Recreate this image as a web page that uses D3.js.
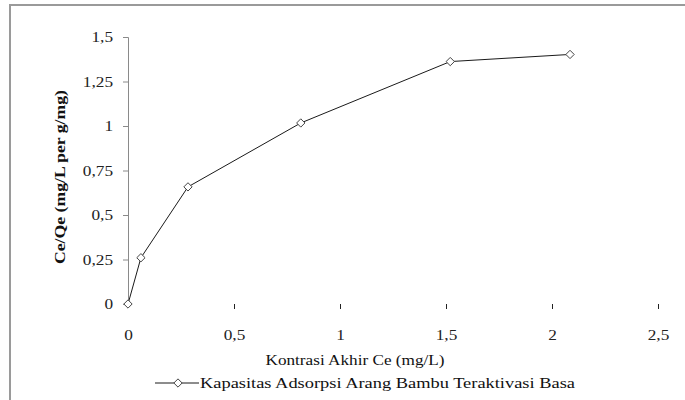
<!DOCTYPE html>
<html>
<head>
<meta charset="utf-8">
<script src="https://cdn.jsdelivr.net/npm/d3@7"></script>
<style>
    body { margin: 0; background: #fff; }
</style>
</head>
<body>
<div id="chart"></div>
<script>
// Data
const ceValues = [0, 0.061, 0.283, 0.815, 1.52, 2.085];
const ceQeValues = [0, 0.26, 0.658, 1.017, 1.362, 1.402];
const xTicks = [0, 0.5, 1, 1.5, 2, 2.5];
const yTicks = [0, 0.25, 0.5, 0.75, 1, 1.25, 1.5];
const xTitle = 'Kontrasi Akhir Ce (mg/L)';
const yTitle = 'Ce/Qe (mg/L per g/mg)';
const seriesName = 'Kapasitas Adsorpsi Arang Bambu Teraktivasi Basa';

const width = 685, height = 400;
const serif = "'Liberation Serif', 'Times New Roman', serif";
const fmt = d => String(d).replace('.', ',');

const svg = d3.select('#chart').append('svg')
    .attr('width', width)
    .attr('height', height)
    .style('font-family', serif);

// outer frame (only top and left edges visible)
svg.append('path')
    .attr('d', `M10,${height} V5 H${width}`)
    .attr('fill', 'none')
    .attr('stroke', '#9a9a9a')
    .attr('stroke-width', 2);

const x = d3.scaleLinear().domain([0, 2.5]).range([128, 658]);
const y = d3.scaleLinear().domain([0, 1.5]).range([304, 37]);

// text in the reference is stretched sideways a bit
function stretch(sel, k) {
    sel.each(function () {
        const len = this.getComputedTextLength();
        d3.select(this).attr('textLength', len * k).attr('lengthAdjust', 'spacingAndGlyphs');
    });
}

// y axis
const yAxis = svg.append('g')
    .attr('transform', `translate(${x(0)},0)`)
    .call(d3.axisLeft(y).tickValues(yTicks).tickFormat(fmt).tickSize(5).tickPadding(10));
yAxis.attr('font-family', null).attr('font-size', null);
yAxis.select('.domain').attr('stroke', '#8a8a8a');
yAxis.selectAll('.tick line').attr('stroke', '#8a8a8a');
yAxis.selectAll('.tick text')
    .style('font-family', serif)
    .style('font-size', '15px')
    .attr('fill', '#222')
    .call(stretch, 1.15);

// x axis: no domain line, ticks hang below the zero line
const xAxis = svg.append('g')
    .attr('transform', `translate(0,${y(0)})`)
    .call(d3.axisBottom(x).tickValues(xTicks).tickFormat(fmt).tickSize(5).tickPadding(20));
xAxis.attr('font-family', null).attr('font-size', null);
xAxis.select('.domain').remove();
xAxis.selectAll('.tick line').attr('stroke', '#222').filter(d => d === 0).remove();
xAxis.selectAll('.tick text')
    .style('font-family', serif)
    .style('font-size', '15px')
    .attr('fill', '#222')
    .call(stretch, 1.15);

// axis titles
svg.append('text')
    .attr('x', 355).attr('y', 365)
    .attr('text-anchor', 'middle')
    .style('font-family', serif)
    .style('font-size', '15px')
    .attr('fill', '#111')
    .attr('textLength', 179).attr('lengthAdjust', 'spacingAndGlyphs')
    .text(xTitle);

svg.append('text')
    .attr('transform', 'translate(65,177) rotate(-90)')
    .attr('text-anchor', 'middle')
    .style('font-family', serif)
    .style('font-size', '15px')
    .style('font-weight', 'bold')
    .attr('fill', '#111')
    .attr('textLength', 174).attr('lengthAdjust', 'spacingAndGlyphs')
    .text(yTitle);

// series line + markers
const pts = ceValues.map((v, i) => [v, ceQeValues[i]]);
svg.append('path')
    .datum(pts)
    .attr('fill', 'none')
    .attr('stroke', '#1a1a1a')
    .attr('stroke-width', 1)
    .attr('d', d3.line().x(d => x(d[0])).y(d => y(d[1])));

const diamond = d3.symbol().type(d3.symbolDiamond2).size(44);
svg.append('g').selectAll('path')
    .data(pts)
    .enter().append('path')
    .attr('d', diamond)
    .attr('transform', d => `translate(${x(d[0])},${y(d[1])})`)
    .attr('fill', '#fff')
    .attr('stroke', '#444')
    .attr('stroke-width', 1);

// legend
const leg = svg.append('g').attr('transform', 'translate(0,383)');
leg.append('line')
    .attr('x1', 155).attr('x2', 199)
    .attr('stroke', '#1a1a1a');
leg.append('path')
    .attr('d', diamond)
    .attr('transform', 'translate(178,0)')
    .attr('fill', '#fff')
    .attr('stroke', '#444');
leg.append('text')
    .attr('x', 200).attr('y', 5)
    .style('font-family', serif)
    .style('font-size', '15px')
    .attr('fill', '#111')
    .attr('textLength', 375).attr('lengthAdjust', 'spacingAndGlyphs')
    .text(seriesName);
</script>
</body>
</html>
